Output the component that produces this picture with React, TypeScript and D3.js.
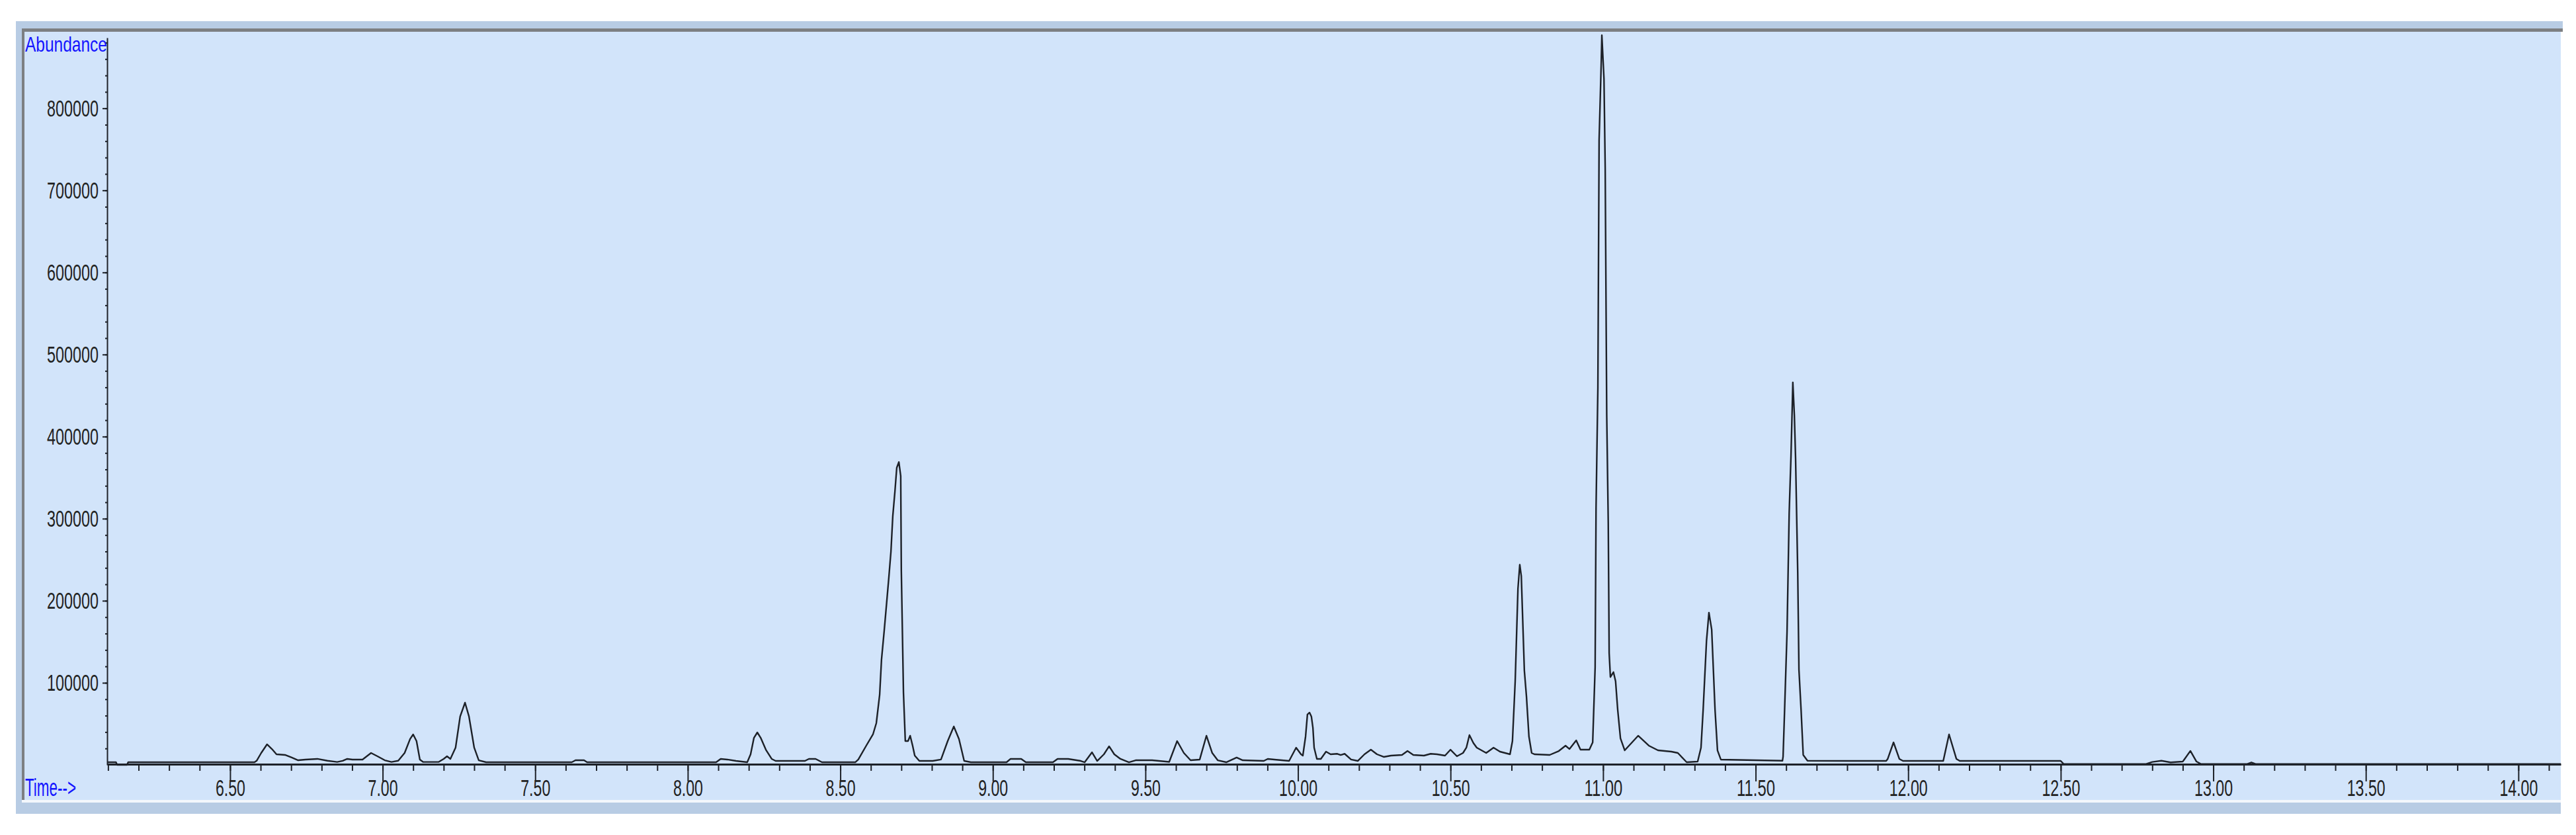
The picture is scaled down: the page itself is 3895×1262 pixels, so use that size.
import { useEffect, useRef } from "react";
import * as d3 from "d3";

type Pt = [number, number];

// retention time (min) vs abundance
const trace061to074: Pt[] = [
  [6.097, 3200], [6.126, 3200], [6.13, 0], [6.162, 0], [6.166, 3200],
  [6.58, 3200], [6.587, 5000], [6.602, 14500], [6.621, 25000], [6.637, 19300],
  [6.652, 12900], [6.68, 12100], [6.702, 8900], [6.723, 5600], [6.747, 6500],
  [6.786, 7300], [6.819, 5000], [6.851, 3500], [6.869, 5000], [6.884, 7300],
  [6.901, 6500], [6.934, 6500], [6.962, 14500], [6.983, 10500], [7.007, 5600],
  [7.029, 3500], [7.051, 5000], [7.072, 14500], [7.09, 31500], [7.1, 37100],
  [7.111, 29000], [7.122, 6500], [7.133, 3500], [7.183, 3500], [7.2, 7300],
  [7.211, 10500], [7.222, 7300], [7.239, 21000], [7.254, 58900], [7.27, 75800],
  [7.283, 58900], [7.3, 21000], [7.315, 5600], [7.339, 3200],
];

const trace074to085: Pt[] = [
  [7.62, 3200], [7.632, 5600], [7.66, 5600], [7.67, 3200], [8.093, 3200],
  [8.108, 7300], [8.13, 6500], [8.158, 4800], [8.195, 3200], [8.206, 12900],
  [8.217, 33000], [8.228, 39500], [8.239, 33000], [8.256, 18500], [8.275, 7300],
  [8.288, 4800], [8.384, 4800], [8.397, 7300], [8.419, 7300], [8.44, 3200],
  [8.549, 3200],
];

const trace085to100: Pt[] = [
  [8.559, 6500], [8.585, 23400], [8.607, 37100], [8.618, 50800], [8.629, 85500],
  [8.635, 128000], [8.644, 164000], [8.652, 198000], [8.659, 228000], [8.666, 260000],
  [8.672, 303000], [8.679, 333000], [8.685, 362000], [8.692, 369000], [8.698, 352000],
  [8.7, 236000], [8.707, 88000], [8.713, 29000], [8.722, 29000], [8.729, 35500],
  [8.737, 23400], [8.744, 11300], [8.759, 4800], [8.803, 4800], [8.83, 6500],
  [8.852, 29000], [8.872, 46800], [8.889, 31500], [8.906, 4800], [8.928, 3200],
  [9.045, 3200], [9.058, 7300], [9.093, 7300], [9.108, 3200], [9.197, 3200],
  [9.212, 7300], [9.247, 7300], [9.288, 4800], [9.301, 3200], [9.325, 15300],
  [9.342, 4800], [9.364, 12900], [9.381, 22600], [9.398, 12900], [9.418, 7300],
  [9.446, 3200], [9.468, 5600], [9.522, 5600], [9.578, 3600], [9.604, 29000],
  [9.626, 14500], [9.648, 5600], [9.678, 6500], [9.7, 35500], [9.719, 14500],
  [9.737, 5600], [9.765, 3200], [9.799, 8900], [9.819, 5600], [9.888, 4800],
  [9.901, 7300], [9.923, 6500], [9.971, 4800],
];

const trace100to110: Pt[] = [
  [9.979, 10500], [9.994, 21000], [10.01, 12900], [10.016, 11300], [10.025, 34700],
  [10.031, 61300], [10.038, 63700], [10.044, 58900], [10.049, 45200], [10.053, 21000],
  [10.062, 7300], [10.075, 7300], [10.092, 16100], [10.107, 12900], [10.129, 13500],
  [10.14, 12000], [10.153, 13500], [10.174, 6500], [10.196, 4800], [10.218, 12900],
  [10.239, 18500], [10.259, 12900], [10.281, 9700], [10.305, 11300], [10.341, 12100],
  [10.359, 16900], [10.378, 12100], [10.413, 11300], [10.435, 13500], [10.456, 12900],
  [10.482, 11300], [10.5, 18500], [10.521, 10500], [10.541, 14500], [10.552, 21000],
  [10.562, 36300], [10.575, 26600], [10.586, 21000], [10.617, 14500], [10.641, 21000],
  [10.662, 16100], [10.695, 12900], [10.703, 29000], [10.712, 102000], [10.721, 214500],
  [10.727, 244000], [10.732, 230000], [10.742, 115000], [10.749, 83000], [10.757, 34700],
  [10.766, 14500], [10.775, 12900], [10.825, 12100], [10.855, 16900], [10.877, 23400],
  [10.89, 19300], [10.912, 29800], [10.926, 18500], [10.955, 18500], [10.966, 27400],
];

const trace110to122: Pt[] = [
  [10.974, 119000], [10.977, 313000], [10.983, 460000], [10.987, 761000], [10.994, 856000],
  [10.996, 889000], [11.003, 836000], [11.007, 727000], [11.012, 426000], [11.017, 295000],
  [11.02, 136000], [11.024, 107000], [11.034, 113000], [11.041, 102000], [11.048, 67000],
  [11.057, 32300], [11.071, 17700], [11.085, 23400], [11.115, 35500], [11.15, 23400],
  [11.18, 17700], [11.224, 16100], [11.245, 14500], [11.274, 3200], [11.31, 4000],
  [11.321, 21000], [11.328, 67000], [11.339, 151000], [11.347, 185500], [11.356, 165000],
  [11.367, 67000], [11.375, 17700], [11.386, 6500], [11.588, 5000], [11.59, 10000],
  [11.595, 67000], [11.603, 162000], [11.61, 307000], [11.616, 377000], [11.622, 466000],
  [11.627, 426000], [11.631, 373000], [11.638, 235000], [11.642, 116000], [11.649, 67000],
  [11.656, 12100], [11.67, 5000], [11.928, 4800], [11.933, 7300], [11.952, 27400],
  [11.971, 7300], [11.983, 4800], [12.115, 4800], [12.134, 37100], [12.158, 7300],
  [12.169, 4800],
];

const trace122to141: Pt[] = [
  [12.5, 4800], [12.51, 1000], [12.78, 1000], [12.8, 3500], [12.83, 5000],
  [12.86, 3000], [12.9, 4000], [12.925, 17000], [12.945, 4000], [12.96, 1000],
  [13.11, 1000], [13.125, 3000], [13.14, 1000], [14.139, 1000],
];

const xMajorTicks = [6.5, 7.0, 7.5, 8.0, 8.5, 9.0, 9.5, 10.0, 10.5, 11.0, 11.5, 12.0, 12.5, 13.0, 13.5, 14.0];
const xMinorTicks = d3.range(61, 142).map((d) => d / 10);
const yMajorTicks = [100000, 200000, 300000, 400000, 500000, 600000, 700000, 800000];
const yMinorTicks = d3.range(1, 45).map((d) => d * 20000);

const W = 3895;
const H = 1262;
const FONT = "'Liberation Sans Narrow', 'Liberation Sans', Arial, sans-serif";
const INK = "#1d2128";

// condensed label width: ~13px per digit, 6px for the dot
const labelWidth = (s: string) => s.replace(/\./g, "").length * 13 + (s.includes(".") ? 6 : 0);

export default function App() {
  const ref = useRef<SVGSVGElement>(null);

  useEffect(() => {
    const el = ref.current;
    if (!el) return;
    const svg = d3.select(el);
    svg.selectAll("*").remove();

    // window frame
    svg.append("rect").attr("x", 24).attr("y", 32).attr("width", 3851).attr("height", 16).attr("fill", "#b8cce4");
    svg.append("rect").attr("x", 24).attr("y", 32).attr("width", 3848).attr("height", 1198).attr("fill", "#b8cce4");
    svg.append("rect").attr("x", 33).attr("y", 43).attr("width", 3842).attr("height", 5).attr("fill", "#7d7f82");
    svg.append("rect").attr("x", 33).attr("y", 43).attr("width", 4).attr("height", 1167).attr("fill", "#7d7f82");
    svg.append("rect").attr("x", 33).attr("y", 1209).attr("width", 3839).attr("height", 4).attr("fill", "#f3f7fc");
    svg.append("rect").attr("x", 37).attr("y", 48).attr("width", 3835).attr("height", 1161).attr("fill", "#d2e4fa");

    const x = d3.scaleLinear().domain([6.097, 14.139]).range([162, 3872]);
    const y = d3.scaleLinear().domain([0, 886000]).range([1156, 57]);

    // y axis
    svg
      .append("g")
      .attr("transform", "translate(162,0)")
      .call(d3.axisLeft(y).tickValues(yMinorTicks).tickSize(3).tickSizeOuter(0).tickFormat(() => ""))
      .call((g) => g.select(".domain").remove())
      .selectAll("line")
      .attr("stroke", INK)
      .attr("stroke-width", 2);

    const ya = svg
      .append("g")
      .attr("transform", "translate(162,0)")
      .call(
        d3
          .axisLeft(y)
          .tickValues(yMajorTicks)
          .tickSize(7)
          .tickSizeOuter(0)
          .tickFormat((d) => String(d))
      )
      .attr("font-family", FONT)
      .attr("font-size", 35);
    ya.select(".domain").attr("stroke", INK).attr("stroke-width", 2);
    ya.selectAll("line").attr("stroke", INK).attr("stroke-width", 2);
    ya.selectAll<SVGTextElement, number>("text")
      .attr("x", -13)
      .attr("dy", null)
      .attr("y", 12)
      .attr("fill", "#222")
      .attr("textLength", (d) => labelWidth(String(d)))
      .attr("lengthAdjust", "spacingAndGlyphs");

    // x axis
    svg
      .append("g")
      .attr("transform", "translate(0,1155)")
      .call(d3.axisBottom(x).tickValues(xMinorTicks).tickSize(10).tickSizeOuter(0).tickFormat(() => ""))
      .call((g) => g.select(".domain").remove())
      .selectAll("line")
      .attr("stroke", INK)
      .attr("stroke-width", 2);

    const xa = svg
      .append("g")
      .attr("transform", "translate(0,1155)")
      .call(
        d3
          .axisBottom(x)
          .tickValues(xMajorTicks)
          .tickSize(26)
          .tickSizeOuter(0)
          .tickFormat((d) => (d as number).toFixed(2))
      )
      .attr("font-family", FONT)
      .attr("font-size", 35);
    xa.select(".domain").attr("stroke", INK).attr("stroke-width", 3);
    xa.selectAll("line").attr("stroke", INK).attr("stroke-width", 2);
    xa.selectAll<SVGTextElement, number>("text")
      .attr("dy", null)
      .attr("y", 48)
      .attr("fill", "#222")
      .attr("textLength", (d) => labelWidth(d.toFixed(2)))
      .attr("lengthAdjust", "spacingAndGlyphs");

    // the trace
    const trace = [
      ...trace061to074,
      ...trace074to085,
      ...trace085to100,
      ...trace100to110,
      ...trace110to122,
      ...trace122to141,
    ];
    const line = d3
      .line<Pt>()
      .x((d) => x(d[0]))
      .y((d) => y(d[1]));
    svg
      .append("path")
      .datum(trace)
      .attr("d", line)
      .attr("fill", "none")
      .attr("stroke", INK)
      .attr("stroke-width", 2.4)
      .attr("stroke-linejoin", "round");

    // corner labels
    svg
      .append("text")
      .attr("x", 38)
      .attr("y", 78)
      .attr("font-family", FONT)
      .attr("font-size", 32)
      .attr("fill", "#1414ff")
      .attr("textLength", 124)
      .attr("lengthAdjust", "spacingAndGlyphs")
      .text("Abundance");
    svg
      .append("text")
      .attr("x", 38)
      .attr("y", 1203)
      .attr("font-family", FONT)
      .attr("font-size", 36)
      .attr("fill", "#1414ff")
      .attr("textLength", 77)
      .attr("lengthAdjust", "spacingAndGlyphs")
      .text("Time-->");
  }, []);

  return (
    <div style={{ position: "absolute", left: 0, top: 0 }}>
      <svg ref={ref} width={W} height={H} style={{ display: "block", background: "#fff" }} />
    </div>
  );
}
